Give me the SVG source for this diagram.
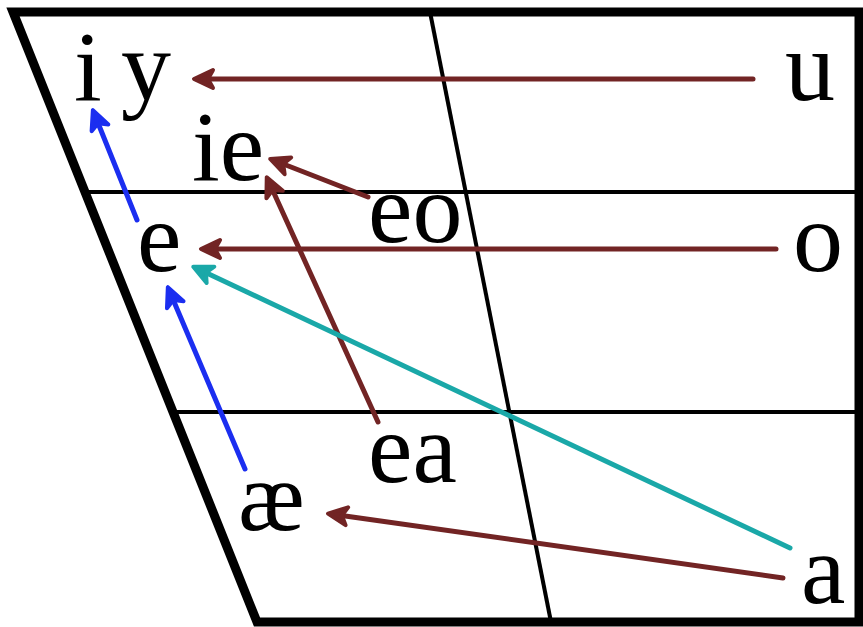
<svg xmlns="http://www.w3.org/2000/svg" width="863" height="627" viewBox="0 0 863 627">
<style>
.frame{fill:none;stroke:#000;stroke-width:9;stroke-linejoin:miter}
.grid{stroke:#000;stroke-width:4;fill:none}
text{font-family:"Liberation Serif","Times New Roman",serif;font-size:100px;fill:#000}
.br{stroke:#722424;stroke-width:5;stroke-linecap:round;fill:none;marker-end:url(#hb)}
.bl{stroke:#1b2ef0;stroke-width:5;stroke-linecap:round;fill:none;marker-end:url(#hl)}
.tl{stroke:#1aa8a8;stroke-width:5;stroke-linecap:round;fill:none;marker-end:url(#ht)}
</style>
<defs>
<marker id="hb" markerUnits="userSpaceOnUse" viewBox="-24 -14 30 28" refX="-3" refY="0" markerWidth="30" markerHeight="28" orient="auto" overflow="visible">
<path d="M0,0 L-19,-9 L-14,0 L-19,9 Z" fill="#722424" stroke="#722424" stroke-width="4" stroke-linejoin="round"/>
</marker>
<marker id="hl" markerUnits="userSpaceOnUse" viewBox="-24 -14 30 28" refX="-3" refY="0" markerWidth="30" markerHeight="28" orient="auto" overflow="visible">
<path d="M0,0 L-19,-9 L-14,0 L-19,9 Z" fill="#1b2ef0" stroke="#1b2ef0" stroke-width="4" stroke-linejoin="round"/>
</marker>
<marker id="ht" markerUnits="userSpaceOnUse" viewBox="-24 -14 30 28" refX="-3" refY="0" markerWidth="30" markerHeight="28" orient="auto" overflow="visible">
<path d="M0,0 L-19,-9 L-14,0 L-19,9 Z" fill="#1aa8a8" stroke="#1aa8a8" stroke-width="4" stroke-linejoin="round"/>
</marker>
</defs>
<g id="chart">
<line class="grid" x1="86" y1="192" x2="859" y2="192"/>
<line class="grid" x1="173" y1="412" x2="859" y2="412"/>
<line class="grid" x1="430" y1="12" x2="551" y2="622"/>
<polygon class="frame" points="13,12 859,12 859,622 257,622"/>
</g>
<g id="connectors">
<line class="br" x1="753" y1="79" x2="197" y2="79"/>
<line class="br" x1="368" y1="197" x2="273" y2="160"/>
<line class="br" x1="378" y1="422" x2="268" y2="180"/>
<line class="br" x1="776" y1="249" x2="204" y2="249"/>
<line class="tl" x1="790" y1="548" x2="196" y2="268"/>
<line class="br" x1="783" y1="578" x2="331" y2="514"/>
<line class="bl" x1="245" y1="469" x2="169" y2="290"/>
<line class="bl" x1="137" y1="220" x2="94" y2="113"/>
</g>
<g id="n-i"><text x="74" y="100">i</text></g>
<g id="n-y"><text x="121" y="100">y</text></g>
<g id="n-u"><text x="785" y="100">u</text></g>
<g id="n-ie"><text x="192" y="180">ie</text></g>
<g id="n-eo"><text x="368" y="242">eo</text></g>
<g id="n-e"><text x="137" y="271">e</text></g>
<g id="n-o"><text x="793" y="271">o</text></g>
<g id="n-ea"><text x="368" y="482">ea</text></g>
<g id="n-ae"><text x="238" y="530">æ</text></g>
<g id="n-a"><text x="801" y="603">a</text></g>
</svg>
